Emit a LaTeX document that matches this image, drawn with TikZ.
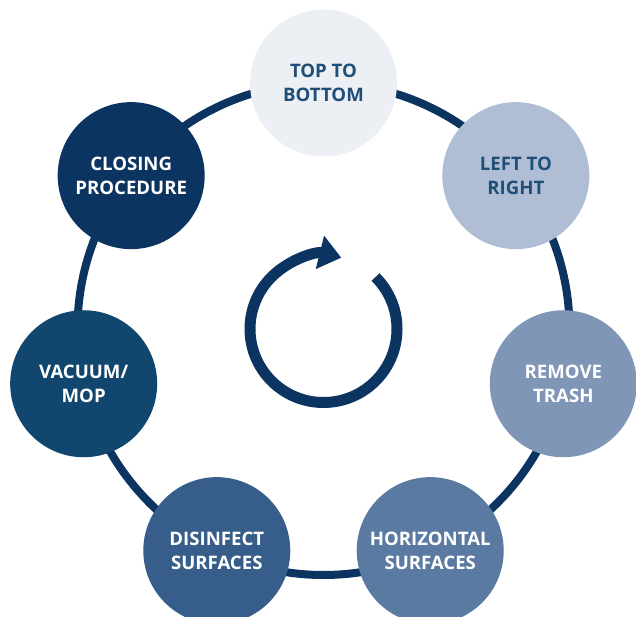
\documentclass[tikz,border=0pt]{standalone}
\usepackage{fontspec}
\setmainfont{Open Sans}
\usepackage{tikz}
\usetikzlibrary{arrows.meta,backgrounds,positioning}

\definecolor{ringblue}{HTML}{0C3461}
\definecolor{textblue}{HTML}{1F4E79}
\definecolor{shadeA}{HTML}{ECF0F5}
\definecolor{shadeB}{HTML}{B0BED5}
\definecolor{shadeC}{HTML}{8096B7}
\definecolor{shadeD}{HTML}{5B7AA2}
\definecolor{shadeE}{HTML}{375E8A}
\definecolor{shadeF}{HTML}{11466F}
\definecolor{shadeG}{HTML}{0C3461}

\begin{document}
\begin{tikzpicture}[x=1pt,y=1pt]
  \tikzstyle{stage}=[circle,minimum size=147pt,inner sep=0pt,align=center,text=white,font=\bfseries\fontsize{18.6}{23.5}\selectfont]
  \tikzstyle{palestage}=[stage,text=textblue]
  \tikzstyle{loop}=[ringblue,line width=8pt]

  \useasboundingbox (0,0) rectangle (636,617);
  \coordinate (hub) at (323.5,288);

  % Ring behind the stages.
  \draw [loop] (hub) circle (246);

  % Stages, clockwise from the top.
  \node [palestage,fill=shadeA] (top) at ([shift={(90:246)}]hub) {TOP TO\\BOTTOM};
  \node [palestage,fill=shadeB] (leftright) at ([shift={(38.57:246)}]hub) {LEFT TO\\RIGHT};
  \node [stage,fill=shadeC] (trash) at ([shift={(-12.86:246)}]hub) {REMOVE\\TRASH};
  \node [stage,fill=shadeD] (horizontal) at ([shift={(-64.29:246)}]hub) {HORIZONTAL\\SURFACES};
  \node [stage,fill=shadeE] (disinfect) at ([shift={(-115.71:246)}]hub) {DISINFECT\\SURFACES};
  \node [stage,fill=shadeF] (vacuum) at ([shift={(-167.14:246)}]hub) {VACUUM/\\MOP};
  \node [stage,fill=shadeG] (closing) at ([shift={(141.43:246)}]hub) {CLOSING\\PROCEDURE};

  % Cycle arrow in the middle.
  \draw [ringblue,line width=11pt,-{Triangle[length=22pt,width=33pt]}]
    ([shift={(45:73.5)}]hub) arc [start angle=45,end angle=-284,radius=73.5];
\end{tikzpicture}
\end{document}
